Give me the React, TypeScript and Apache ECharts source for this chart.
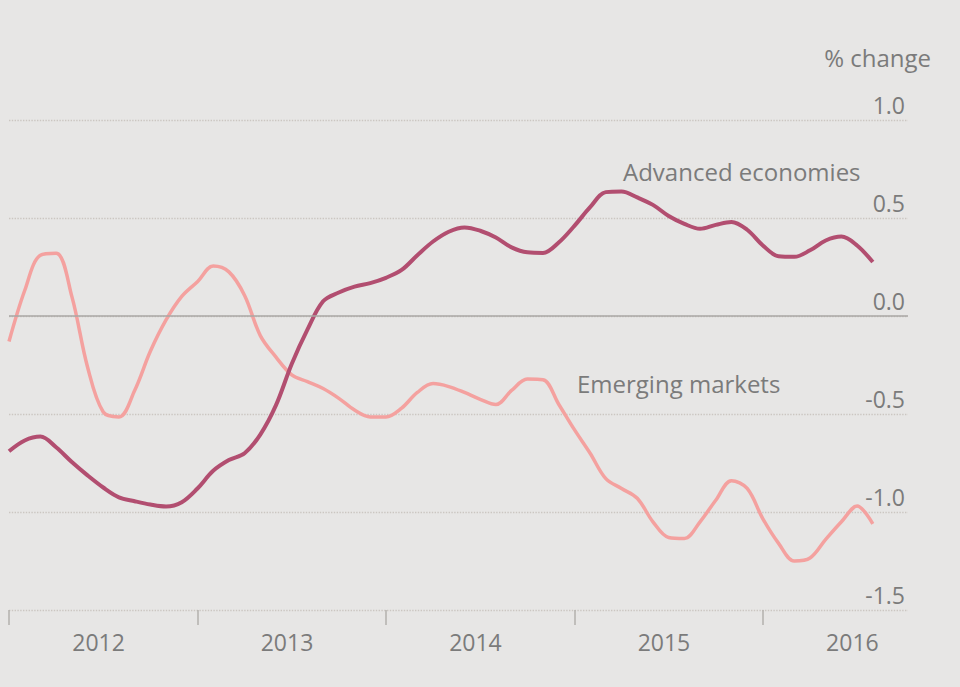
import { useEffect, useRef } from "react";
import * as echarts from "echarts";

// Tick years on the x axis (year boundaries)
const YEARS = [2012, 2013, 2014, 2015, 2016];
const START_YEAR = 2012;

// Monthly values, Jan 2012 .. Aug 2016 (% change)
const advancedEconomies = [
  -0.69, -0.635, -0.615, -0.67, -0.745, -0.813, -0.875, -0.925, -0.945, -0.962, -0.972, -0.95,
  -0.88, -0.79, -0.735, -0.7, -0.605, -0.455, -0.245, -0.07, 0.075, 0.12, 0.15, 0.168,
  0.195, 0.235, 0.31, 0.38, 0.43, 0.452, 0.435, 0.4, 0.35, 0.325, 0.322, 0.375,
  0.46, 0.555, 0.632, 0.635, 0.605, 0.567, 0.51, 0.47, 0.445, 0.465, 0.48, 0.44,
  0.36, 0.305, 0.302, 0.335, 0.385, 0.405, 0.36, 0.275,
];

const emergingMarkets = [
  -0.13, 0.13, 0.31, 0.32, 0.1, -0.26, -0.49, -0.515, -0.38, -0.18, -0.02, 0.1,
  0.175, 0.255, 0.225, 0.105, -0.1, -0.21, -0.3, -0.335, -0.37, -0.42, -0.48, -0.515,
  -0.515, -0.47, -0.39, -0.345, -0.36, -0.39, -0.425, -0.452, -0.38, -0.322, -0.325, -0.45,
  -0.58, -0.7, -0.83, -0.88, -0.93, -1.05, -1.13, -1.135, -1.05, -0.94, -0.84, -0.88,
  -1.035, -1.16, -1.25, -1.235, -1.14, -1.05, -0.97, -1.06,
];

const months = advancedEconomies.map((_, i) => {
  const y = START_YEAR + Math.floor(i / 12);
  const m = (i % 12) + 1;
  return `${y}-${String(m).padStart(2, "0")}`;
});

const toYear = (d: string) => {
  const [y, m] = d.split("-").map(Number);
  return y + (m - 1) / 12;
};

const FONT = "Open Sans";
const TEXT = "#7b7b7b";
const BG = "#e7e6e5";

export default function App() {
  const ref = useRef<HTMLDivElement>(null);

  useEffect(() => {
    document.body.style.margin = "0";
    const chart = echarts.init(ref.current!, undefined, { renderer: "svg" });
    chart.setOption({
      animation: false,
      backgroundColor: BG,
      textStyle: { fontFamily: FONT },
      grid: { left: 9, right: 52, top: 120, bottom: 77 },
      title: {
        text: "% change",
        right: 24,
        top: 40,
        textStyle: { fontFamily: FONT, fontSize: 24, fontWeight: "normal", color: TEXT },
      },
      xAxis: {
        type: "value",
        min: 2012,
        max: 2016.77,
        axisLine: { show: false, onZero: false },
        splitLine: { show: false },
        axisTick: {
          show: true,
          customValues: YEARS,
          length: 15,
          lineStyle: { color: "#b3b0ad", width: 1.5 },
        },
        axisLabel: {
          customValues: YEARS.map((y) => y + 0.475),
          formatter: (v: number) => String(Math.floor(v)),
          fontFamily: FONT,
          fontSize: 23,
          color: TEXT,
          margin: 20,
        },
      },
      yAxis: {
        type: "value",
        position: "right",
        min: -1.5,
        max: 1,
        interval: 0.5,
        axisLine: { show: false },
        axisTick: { show: false },
        axisLabel: {
          inside: true,
          margin: 3,
          verticalAlign: "bottom",
          lineHeight: 30,
          fontFamily: FONT,
          fontSize: 23,
          color: TEXT,
          formatter: (v: number) => v.toFixed(1),
        },
        splitLine: { lineStyle: { type: "dotted", color: "#cbc6c1", width: 1.4 } },
      },
      graphic: [
        {
          type: "text",
          x: 623,
          y: 171,
          style: {
            text: "Advanced economies",
            font: `24px "${FONT}"`,
            fill: TEXT,
            verticalAlign: "middle",
          },
        },
        {
          type: "text",
          x: 577,
          y: 383,
          style: {
            text: "Emerging markets",
            font: `24px "${FONT}"`,
            fill: TEXT,
            verticalAlign: "middle",
          },
        },
      ],
      series: [
        {
          name: "Emerging markets",
          type: "line",
          data: months.map((d, i) => [toYear(d), emergingMarkets[i]]),
          showSymbol: false,
          smooth: 0.35,
          lineStyle: { color: "#f4a19f", width: 3.5 },
          markLine: {
            silent: true,
            symbol: "none",
            label: { show: false },
            lineStyle: { type: "solid", color: "#aaa7a4", width: 1.6 },
            data: [{ yAxis: 0 }],
          },
          z: 2,
        },
        {
          name: "Advanced economies",
          type: "line",
          data: months.map((d, i) => [toYear(d), advancedEconomies[i]]),
          showSymbol: false,
          smooth: 0.35,
          lineStyle: { color: "#b24e70", width: 4 },
          z: 3,
        },
      ],
    });
    return () => chart.dispose();
  }, []);

  return (
    <div
      ref={ref}
      style={{ position: "fixed", left: 0, top: 0, width: 960, height: 687, background: BG }}
    />
  );
}
